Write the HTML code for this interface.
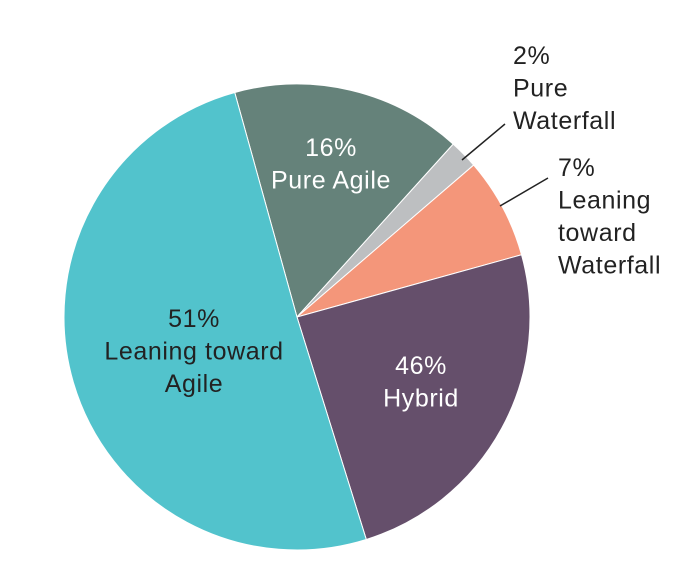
<!DOCTYPE html>
<html><head><meta charset="utf-8"><style>
body{margin:0;background:#fff;}
svg text{font-family:"Liberation Sans",sans-serif;font-size:25px;letter-spacing:0.6px;}
</style></head><body>
<svg id="chart" width="693" height="565" xmlns="http://www.w3.org/2000/svg"></svg>
<script>
const categories=["Pure Agile","Pure Waterfall","Leaning toward Waterfall","Hybrid","Leaning toward Agile"];
const values=[16,2,7,24.5,50.5];
const printed=["16%","2%","7%","46%","51%"];
const colors=["#65827A","#BDBFC1","#F4967A","#654F6B","#52C3CC"];
const svg=document.getElementById('chart');
const NS="http://www.w3.org/2000/svg";
const cx=297,cy=317,r=233,start=-15.5;
const total=values.reduce((a,b)=>a+b,0);
function pt(deg,rad){const a=(deg-90)*Math.PI/180;return [cx+rad*Math.cos(a),cy+rad*Math.sin(a)];}
let ang=start;
values.forEach((v,i)=>{
  const sweep=v/total*360;
  const p1=pt(ang,r),p2=pt(ang+sweep,r);
  const path=document.createElementNS(NS,'path');
  path.setAttribute('d',`M${cx},${cy} L${p1[0]},${p1[1]} A${r},${r} 0 ${sweep>180?1:0} 1 ${p2[0]},${p2[1]} Z`);
  path.setAttribute('fill',colors[i]);
  path.setAttribute('stroke','#fff');
  path.setAttribute('stroke-width','1');
  
  
  svg.appendChild(path);
  ang+=sweep;
});
function txt(lines,x,y,fill,anchor,name){
  const t=document.createElementNS(NS,'text');
  t.setAttribute('x',x);t.setAttribute('y',y);t.setAttribute('fill',fill);t.setAttribute('text-anchor',anchor);
  
  
  lines.forEach((l,k)=>{const s=document.createElementNS(NS,'tspan');s.setAttribute('x',x);s.setAttribute('dy',k?32.5:0);s.textContent=l;t.appendChild(s);});
  svg.appendChild(t);
}
function line(x1,y1,x2,y2,name){
  const l=document.createElementNS(NS,'line');
  l.setAttribute('x1',x1);l.setAttribute('y1',y1);l.setAttribute('x2',x2);l.setAttribute('y2',y2);
  l.setAttribute('stroke','#222');l.setAttribute('stroke-width','1.5');
  
  
  svg.appendChild(l);
}
txt([printed[0],"Pure Agile"],331,156,"#fff","middle","label-pure-agile");
txt([printed[4],"Leaning toward","Agile"],194,327,"#222","middle","label-leaning-agile");
txt([printed[3],"Hybrid"],421,374,"#fff","middle","label-hybrid");
txt([printed[1],"Pure","Waterfall"],513,64,"#222","start","label-pure-waterfall");
txt([printed[2],"Leaning","toward","Waterfall"],558,176,"#222","start","label-leaning-waterfall");
line(462,160,505,124,"leader-pure-waterfall");
line(500,206,548,178,"leader-leaning-waterfall");
</script>
</body></html>
